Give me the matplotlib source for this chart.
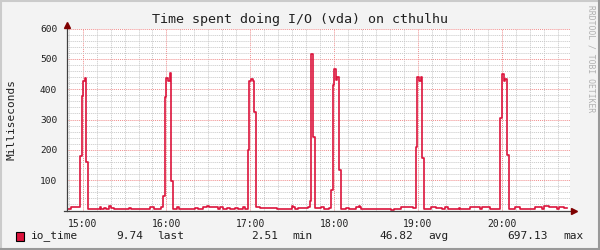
import matplotlib
matplotlib.use("Agg")
import matplotlib.pyplot as plt
from matplotlib.lines import Line2D
from matplotlib.patches import Rectangle
from matplotlib.ticker import MultipleLocator, FixedLocator, FixedFormatter

# ---------------- data ----------------
title = "Time spent doing I/O (vda) on cthulhu"
y_label = "Milliseconds"
series_name = "io_time"

# minutes relative to 15:00 where the value changes (step data)
t_min = [-11.2, -8.6, -3.9,
         -1.7, -0.7, 0.4, 1.9, 2.7, 4.1,
         12.4, 13.3, 15.3, 16.5, 18.8, 20.0, 22.4, 29.6, 33.2, 34.6, 43.2, 48.2, 51.1, 55.8,
         57.7, 59.1, 59.9, 61.3, 62.5, 63.4, 65.0,
         67.7, 69.0, 76.8, 80.4, 82.8, 86.4, 88.8, 90.6, 97.1, 98.3, 100.7, 103.1, 105.5, 109.0, 111.4, 115.0, 116.2,
         118.6, 119.3, 120.7, 121.7, 122.8, 124.4,
         127.0, 138.9, 148.4, 149.6, 150.8, 152.0, 154.4, 161.5,
         162.7, 163.8, 165.1, 166.7,
         170.6, 173.0, 176.6,
         177.8, 179.0, 179.9, 181.4, 182.1, 183.3, 185.2,
         188.5, 190.9, 195.7, 197.6, 198.5, 199.3, 214.8, 220.7, 223.1, 227.9, 236.3,
         238.6, 239.3, 240.8, 242.0, 243.3, 244.7,
         249.4, 253.0, 257.3, 259.2, 261.6, 269.2, 270.4, 277.5, 284.7, 285.9, 291.8,
         299.0, 300.2, 301.6, 302.6, 303.9, 305.4,
         307.4, 309.7, 313.3, 320.5, 324.1, 328.9, 330.1, 333.7, 339.6, 340.8, 344.4, 346.8]
io_time = [4, 12, 10,
           180, 379, 427, 437, 160, 4,
           10, 4, 8, 4, 15, 8, 6, 4, 8, 6, 4, 10, 6, 10,
           47, 374, 437, 428, 453, 98, 4,
           12, 6, 4, 8, 6, 10, 16, 10, 4, 10, 6, 8, 6, 8, 6, 10, 4,
           200, 426, 433, 426, 324, 10,
           8, 6, 4, 14, 10, 6, 8, 10,
           30, 516, 243, 8,
           12, 6, 8,
           68, 415, 466, 429, 440, 132, 4,
           8, 6, 10, 14, 10, 6, 4, 2.5, 6, 10, 8,
           210, 440, 426, 440, 172, 6,
           10, 8, 6, 10, 4, 8, 6, 10, 6, 10, 6,
           305, 450, 428, 435, 183, 4,
           6, 10, 6, 4, 10, 6, 14, 10, 4, 10, 9.74, 9.74]

x_tick_pos = [0, 60, 120, 180, 240, 300]
x_tick_labels = ["15:00", "16:00", "17:00", "18:00", "19:00", "20:00"]
y_tick_pos = [100, 200, 300, 400, 500, 600]
y_tick_labels = ["100", "200", "300", "400", "500", "600"]

stat_values = ["9.74", "2.51", "46.82", "697.13"]
stat_names = ["last", "min", "avg", "max"]

# ---------------- style ----------------
W, H = 600, 250
BACK = "#F3F3F3"
LINE = "#DC143C"
MONO = "DejaVu Sans Mono"

fig = plt.figure(figsize=(6, 2.5), dpi=100, facecolor=BACK)

L, R, T, B = 67, 570, 28.5, 210.5
ax = fig.add_axes([L / W, 1 - B / H, (R - L) / W, (B - T) / H])
ax.set_facecolor("white")

ax.step(t_min, io_time, where="post", color=LINE, linewidth=1.2, zorder=3)

ax.set_xlim(-11.2, 348.9)
ax.set_ylim(0, 600)

# grids
ax.xaxis.set_minor_locator(MultipleLocator(10))
ax.yaxis.set_minor_locator(MultipleLocator(20))
ax.xaxis.set_major_locator(FixedLocator(x_tick_pos))
ax.xaxis.set_major_formatter(FixedFormatter(x_tick_labels))
ax.yaxis.set_major_locator(FixedLocator(y_tick_pos))
ax.yaxis.set_major_formatter(FixedFormatter(y_tick_labels))
ax.grid(which="minor", color="#C8C8C8", linestyle=(0, (1, 1)), linewidth=0.7)
ax.grid(which="major", color="#F08C8C", linestyle=(0, (1, 1)), linewidth=0.7)
ax.set_axisbelow(True)

for s in ax.spines.values():
    s.set_visible(False)

ax.tick_params(axis="both", which="both", length=0)
ax.tick_params(axis="x", which="major", pad=6, labelsize=7)
ax.tick_params(axis="y", which="major", pad=7, labelsize=6.8)
for lab in ax.get_xticklabels() + ax.get_yticklabels():
    lab.set_family(MONO)
    lab.set_color("#202020")

# axes lines with arrows
ax.plot([0, 0], [0, 1.015], transform=ax.transAxes, color="#404040",
        linewidth=0.9, clip_on=False, zorder=5)
ax.plot([-0.006, 1.005], [0, 0], transform=ax.transAxes, color="#404040",
        linewidth=0.9, clip_on=False, zorder=5)
ax.plot([0], [1.02], marker="^", markersize=4, color="#7F0000",
        transform=ax.transAxes, clip_on=False, zorder=6)
ax.plot([1.008], [0], marker=">", markersize=4, color="#7F0000",
        transform=ax.transAxes, clip_on=False, zorder=6)

# title & y label
fig.text(0.5, 1 - 20 / H, title, ha="center", va="center",
         family=MONO, fontsize=9.6, color="#202020")
fig.text(12 / W, 1 - 120 / H, y_label, ha="center", va="center",
         rotation=90, family=MONO, fontsize=8, color="#202020")

# watermark
fig.text(591 / W, 1 - 5 / H, "RRDTOOL / TOBI OETIKER", ha="center", va="top",
         rotation=270, family=MONO, fontsize=5.8, color="#B0B0B0")

# legend row
ly = 1 - 236 / H
fig.patches.append(Rectangle((15.5 / W, 1 - 240.5 / H), 8.5 / W, 9 / H,
                             transform=fig.transFigure, facecolor=LINE,
                             edgecolor="black", linewidth=0.8))
fig.text(31 / W, ly, series_name, ha="left", va="center",
         family=MONO, fontsize=8, color="#202020")
val_right = [143, 278, 413, 548]
name_left = [157, 292, 428, 563]
for v, n, vr, nl in zip(stat_values, stat_names, val_right, name_left):
    fig.text(vr / W, ly, v, ha="right", va="center", family=MONO,
             fontsize=8, color="#202020")
    fig.text(nl / W, ly, n, ha="left", va="center", family=MONO,
             fontsize=8, color="#202020")

# 3D frame
fig.add_artist(Line2D([0, 1], [1 - 1 / H, 1 - 1 / H], transform=fig.transFigure,
                      color="#CBCBCB", linewidth=1.5))
fig.add_artist(Line2D([1 / W, 1 / W], [0, 1], transform=fig.transFigure,
                      color="#CBCBCB", linewidth=1.5))
fig.add_artist(Line2D([0, 1], [1 / H, 1 / H], transform=fig.transFigure,
                      color="#999999", linewidth=1.5))
fig.add_artist(Line2D([1 - 1 / W, 1 - 1 / W], [0, 1], transform=fig.transFigure,
                      color="#999999", linewidth=1.5))

fig.savefig("out.png", dpi=100, facecolor=BACK)
